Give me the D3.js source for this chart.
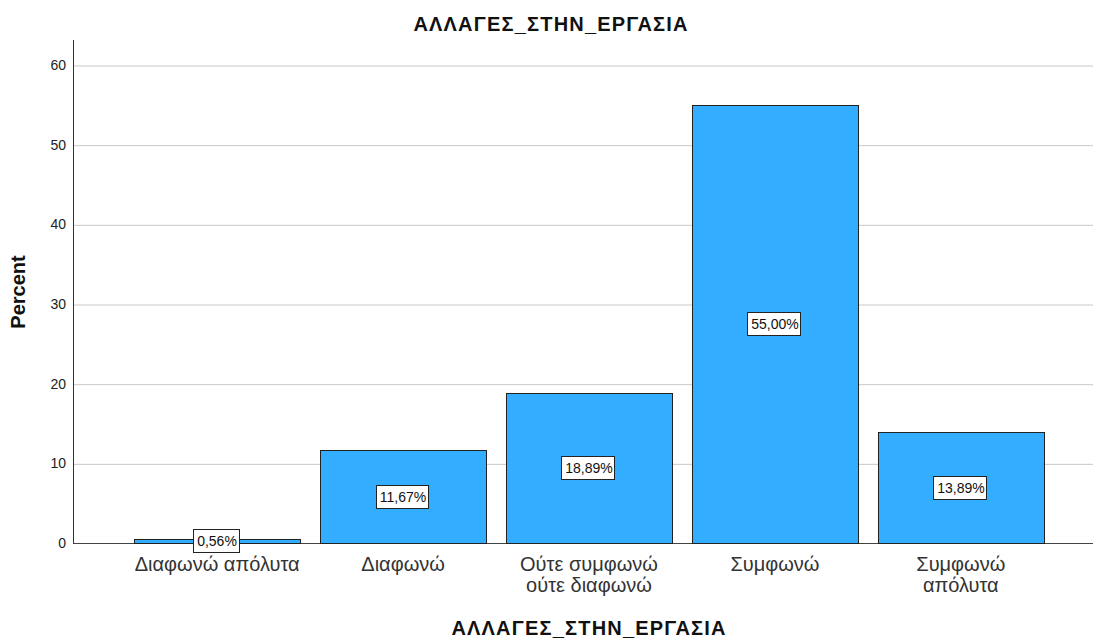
<!DOCTYPE html>
<html>
<head>
<meta charset="utf-8">
<script src="https://d3js.org/d3.v7.min.js"></script>
<style>
  body { margin: 0; background: #fff; }
  svg { display: block; font-family: "Liberation Sans", Arial, sans-serif; }
  .grid line { stroke: #c8c8c8; stroke-width: 1; }
  .grid path { display: none; }
  .yaxis path { stroke: #333; }
  .yaxis line { display: none; }
  .yaxis text { font-size: 14px; fill: #222; }
</style>
</head>
<body>
<script>
// data
var categories = ["Διαφωνώ απόλυτα", "Διαφωνώ", "Ούτε συμφωνώ ούτε διαφωνώ", "Συμφωνώ", "Συμφωνώ απόλυτα"];
var labelLines = [["Διαφωνώ απόλυτα"], ["Διαφωνώ"], ["Ούτε συμφωνώ", "ούτε διαφωνώ"], ["Συμφωνώ"], ["Συμφωνώ", "απόλυτα"]];
var percents = [0.56, 11.67, 18.89, 55.00, 13.89];
var yTicks = [0, 10, 20, 30, 40, 50, 60];
var chartTitle = "ΑΛΛΑΓΕΣ_ΣΤΗΝ_ΕΡΓΑΣΙΑ";
var yTitle = "Percent";

var W = 1095, H = 641;
var pLeft = 73, pRight = 1093, pTop = 40, pBottom = 543;

var svg = d3.select("body").append("svg")
  .attr("width", W).attr("height", H);

var y = d3.scaleLinear().domain([0, 63.14]).range([pBottom, pTop]);
var x = d3.scaleBand().domain(categories).range([134, 1044]).paddingInner(0.105).paddingOuter(0);

// gridlines
svg.append("g")
  .attr("class", "grid")
  .attr("transform", "translate(" + pLeft + ",0.5)")
  .call(d3.axisLeft(y).tickValues(yTicks.slice(1)).tickSize(-(pRight - pLeft)).tickFormat(""));

// baseline
svg.append("line")
  .attr("x1", pLeft).attr("x2", pRight)
  .attr("y1", y(0) + 0.5).attr("y2", y(0) + 0.5)
  .attr("stroke", "#444").attr("stroke-width", 1);

// bars
svg.selectAll(".bar")
  .data(percents)
  .enter().append("rect")
  .attr("class", "bar")
  .attr("x", function(d, i) { return Math.round(x(categories[i])) + 0.5; })
  .attr("y", function(d) { return Math.round(y(d)) + 0.5; })
  .attr("width", Math.round(x.bandwidth()))
  .attr("height", function(d) { return Math.round(y(0)) - Math.round(y(d)); })
  .attr("fill", "#33adff")
  .attr("stroke", "#222")
  .attr("stroke-width", 1);

// y axis
var yAxis = svg.append("g")
  .attr("class", "yaxis")
  .attr("transform", "translate(" + pLeft + ",0)")
  .call(d3.axisLeft(y).tickValues(yTicks).tickSize(0).tickPadding(7).tickSizeOuter(0));
yAxis.select(".domain").attr("d", "M0.5," + pTop + "V" + (pBottom + 1));

// value labels
var lab = svg.selectAll(".vlabel")
  .data(percents)
  .enter().append("g")
  .attr("class", "vlabel")
  .attr("transform", function(d, i) {
    return "translate(" + Math.round(x(categories[i]) + x.bandwidth() / 2) + "," + Math.round((y(d) + y(0)) / 2) + ")";
  });
lab.append("text")
  .attr("text-anchor", "middle")
  .attr("dy", "0.36em")
  .attr("font-size", 14)
  .attr("fill", "#111")
  .text(function(d) { return d.toFixed(2).replace(".", ",") + "%"; });
lab.each(function() {
  var g = d3.select(this);
  var bb = g.select("text").node().getBBox();
  g.insert("rect", "text")
    .attr("x", Math.round(bb.x) - 3.5).attr("y", -11.5)
    .attr("width", Math.round(bb.width) + 6).attr("height", 23)
    .attr("fill", "#fff").attr("stroke", "#222");
});

// x category labels
var xl = svg.selectAll(".xlabel")
  .data(labelLines)
  .enter().append("text")
  .attr("class", "xlabel")
  .attr("text-anchor", "middle")
  .attr("font-size", 20)
  .attr("fill", "#333")
  .attr("x", function(d, i) { return x(categories[i]) + x.bandwidth() / 2; })
  .attr("y", 571);
xl.selectAll("tspan")
  .data(function(d) { return d; })
  .enter().append("tspan")
  .attr("x", function() { return d3.select(this.parentNode).attr("x"); })
  .attr("dy", function(d, i) { return i === 0 ? 0 : 21; })
  .text(function(d) { return d; });

// titles
svg.append("text")
  .attr("x", 551).attr("y", 31)
  .attr("text-anchor", "middle")
  .attr("font-size", 20).attr("font-weight", "bold")
  .attr("letter-spacing", 1.2)
  .attr("fill", "#111")
  .text(chartTitle);

svg.append("text")
  .attr("x", 589).attr("y", 635)
  .attr("text-anchor", "middle")
  .attr("font-size", 20).attr("font-weight", "bold")
  .attr("letter-spacing", 1.2)
  .attr("fill", "#111")
  .text(chartTitle);

svg.append("text")
  .attr("transform", "translate(25,292) rotate(-90)")
  .attr("text-anchor", "middle")
  .attr("font-size", 20).attr("font-weight", "bold")
  .attr("fill", "#111")
  .text(yTitle);
</script>
</body>
</html>
